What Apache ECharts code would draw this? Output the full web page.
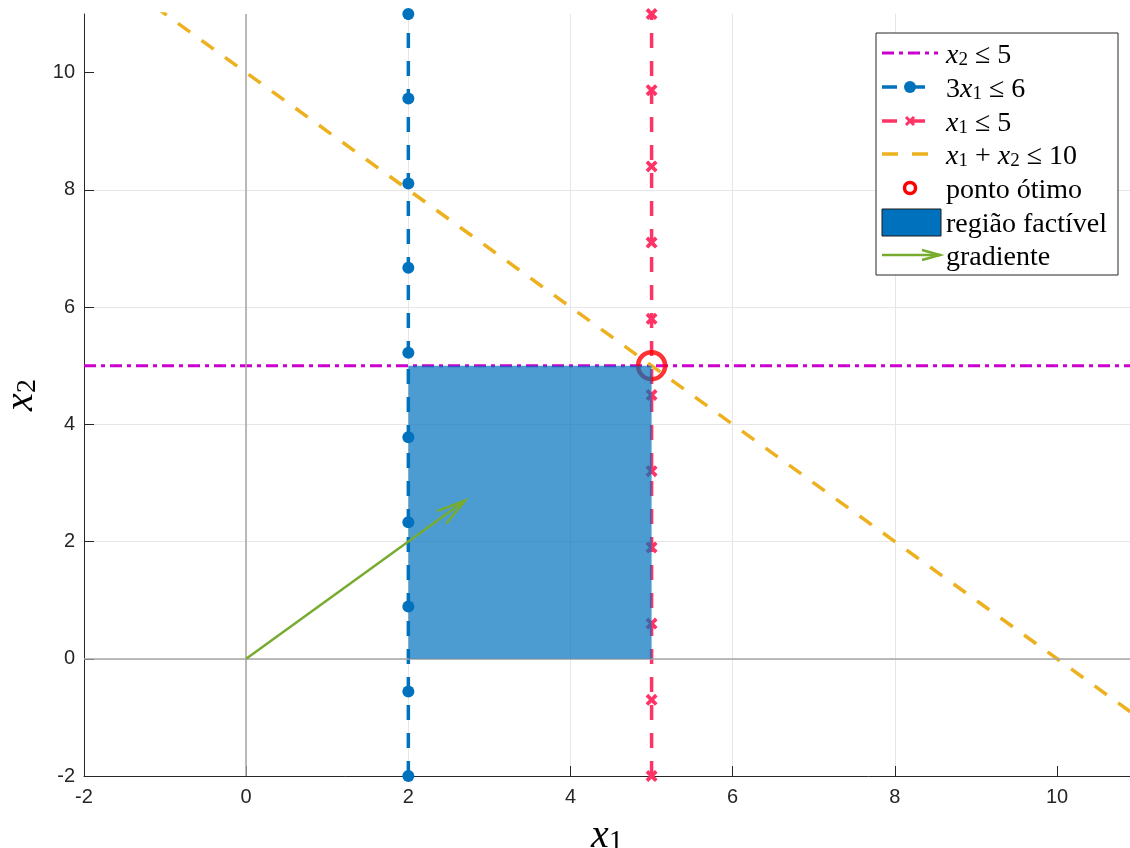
<!DOCTYPE html>
<html>
<head>
<meta charset="utf-8">
<script src="https://cdn.jsdelivr.net/npm/echarts@6/dist/echarts.min.js"></script>
<style>
  html, body { margin: 0; padding: 0; background: #fff; }
  #chart { width: 1130px; height: 848px; }
</style>
</head>
<body>
<div id="chart"></div>
<script>
  // eixos
  var xTicks = [-2, 0, 2, 4, 6, 8, 10]
  var yTicks = [-2, 0, 2, 4, 6, 8, 10]
  var xRange = [-2, 10.9]
  var yRange = [-2, 11]

  // x2 <= 5
  var r1X = [-2, 11]
  var r1Y = [5, 5]
  // 3x1 <= 6
  var r2X = [2, 2, 2, 2, 2, 2, 2, 2, 2, 2]
  var r2Y = [-2, -0.56, 0.89, 2.33, 3.78, 5.22, 6.67, 8.11, 9.56, 11]
  // x1 <= 5
  var r3X = [5, 5, 5, 5, 5, 5, 5, 5, 5, 5, 5]
  var r3Y = [-2, -0.7, 0.6, 1.9, 3.2, 4.5, 5.8, 7.1, 8.4, 9.7, 11]
  // x1 + x2 <= 10
  var r4X = [-2, 12]
  var r4Y = [12, -2]

  var otimo = [5, 5]
  var regiaoX = [2, 5, 5, 2]
  var regiaoY = [0, 0, 5, 5]
  var gradiente = [0, 0, 2.7, 2.7]

  var AZUL = '#0072BD'
  var ROSA = '#FF3366'
  var MAGENTA = '#CC00CC'
  var AMARELO = '#EDB120'
  var VERDE = '#77AC30'
  var SERIF = 'Liberation Serif'

  function pares (xs, ys) {
    return xs.map(function (x, i) { return [x, ys[i]] })
  }

  var simboloX = 'path://M0,2.2 L2.2,0 L5,2.8 L7.8,0 L10,2.2 L7.2,5 L10,7.8 L7.8,10 L5,7.2 L2.2,10 L0,7.8 L2.8,5 Z'

  // estilos de texto "latex"
  var richLeg = {
    i: { fontFamily: SERIF, fontStyle: 'italic', fontSize: 28, lineHeight: 34, verticalAlign: 'bottom', fill: '#000' },
    s: { fontFamily: SERIF, fontSize: 19, lineHeight: 11, verticalAlign: 'bottom', fill: '#000' },
    r: { fontFamily: SERIF, fontSize: 28, lineHeight: 34, verticalAlign: 'bottom', fill: '#000' }
  }
  var richEixo = {
    i: { fontFamily: SERIF, fontStyle: 'italic', fontSize: 40, lineHeight: 46, verticalAlign: 'bottom', color: '#000' },
    s: { fontFamily: SERIF, fontSize: 28, lineHeight: 14, verticalAlign: 'bottom', color: '#000' }
  }

  function eixo (ticks, range, nome, gap, margem) {
    return {
      type: 'value',
      min: range[0],
      max: range[1],
      interval: 2,
      name: nome,
      nameLocation: 'middle',
      nameGap: gap,
      nameTextStyle: { rich: richEixo },
      axisLine: { show: true, onZero: false, lineStyle: { color: '#262626', width: 1 } },
      axisTick: { show: true, inside: true, length: 10, lineStyle: { color: '#262626' }, customValues: ticks },
      axisLabel: { color: '#262626', fontFamily: 'Liberation Sans', fontSize: 20, margin: margem, customValues: ticks },
      splitLine: { show: true, showMinLine: false, showMaxLine: false, lineStyle: { color: '#e6e6e6', width: 1 } }
    }
  }

  var legY = [53, 87, 121, 154, 188, 222, 255]
  var legTextos = [
    '{i|x}{s|2}{r| ≤ 5}',
    '{r|3}{i|x}{s|1}{r| ≤ 6}',
    '{i|x}{s|1}{r| ≤ 5}',
    '{i|x}{s|1}{r| + }{i|x}{s|2}{r| ≤ 10}',
    '{r|ponto ótimo}',
    '{r|região factível}',
    '{r|gradiente}'
  ]

  var legenda = [
    { type: 'rect', shape: { x: 876, y: 33, width: 242, height: 242 }, style: { fill: '#fff', stroke: '#262626', lineWidth: 1 } },
    { type: 'line', shape: { x1: 882, y1: legY[0], x2: 938, y2: legY[0] }, style: { stroke: MAGENTA, lineWidth: 3, lineDash: [12, 5, 4, 5] } },
    { type: 'line', shape: { x1: 882, y1: legY[1], x2: 938, y2: legY[1] }, style: { stroke: AZUL, lineWidth: 3.5, lineDash: [15, 13] } },
    { type: 'circle', shape: { cx: 910, cy: legY[1], r: 6 }, style: { fill: AZUL } },
    { type: 'line', shape: { x1: 882, y1: legY[2], x2: 938, y2: legY[2] }, style: { stroke: ROSA, lineWidth: 3.5, lineDash: [15, 13] } },
    { type: 'line', shape: { x1: 906, y1: legY[2] - 4, x2: 914, y2: legY[2] + 4 }, style: { stroke: ROSA, lineWidth: 3 } },
    { type: 'line', shape: { x1: 906, y1: legY[2] + 4, x2: 914, y2: legY[2] - 4 }, style: { stroke: ROSA, lineWidth: 3 } },
    { type: 'line', shape: { x1: 882, y1: legY[3], x2: 938, y2: legY[3] }, style: { stroke: AMARELO, lineWidth: 3.5, lineDash: [16, 14] } },
    { type: 'circle', shape: { cx: 910, cy: legY[4], r: 5.5 }, style: { fill: 'none', stroke: '#FF0000', lineWidth: 3.5 } },
    { type: 'rect', shape: { x: 882, y: 209, width: 59, height: 27 }, style: { fill: AZUL, stroke: '#1a1a1a', lineWidth: 1 } },
    { type: 'line', shape: { x1: 882, y1: legY[6], x2: 940, y2: legY[6] }, style: { stroke: VERDE, lineWidth: 2.5 } },
    { type: 'polyline', shape: { points: [[922, legY[6] - 5], [940, legY[6]], [922, legY[6] + 5]] }, style: { stroke: VERDE, lineWidth: 2.5, fill: 'none' } }
  ]
  legTextos.forEach(function (t, k) {
    legenda.push({
      type: 'text',
      x: 946,
      y: legY[k],
      style: { text: t, rich: richLeg, fill: '#000', verticalAlign: 'middle', align: 'left' }
    })
  })
  legenda.forEach(function (el) { el.z = 100; el.silent = true })

  var option = {
    animation: false,
    backgroundColor: '#fff',
    grid: { left: 84, right: 0, top: 14, bottom: 72, containLabel: false, outerBoundsMode: 'none' },
    xAxis: eixo(xTicks, xRange, '{i|x}{s|1}', 34, 11),
    yAxis: eixo(yTicks, yRange, '{i|x}{s|2}', 40, 9),
    graphic: legenda,
    series: [
      {
        // linhas x=0 e y=0
        type: 'line',
        data: [],
        silent: true,
        z: 1,
        markLine: {
          silent: true,
          symbol: 'none',
          label: { show: false },
          lineStyle: { color: '#a6a6a6', width: 1.5, type: 'solid' },
          data: [{ xAxis: 0 }, { yAxis: 0 }]
        }
      },
      {
        type: 'line',
        data: pares(r1X, r1Y),
        symbol: 'none',
        silent: true,
        z: 3,
        lineStyle: { color: MAGENTA, width: 3, type: [12, 5, 4, 5] }
      },
      {
        type: 'line',
        data: pares(r2X, r2Y),
        symbol: 'circle',
        symbolSize: 12,
        silent: true,
        z: 3,
        itemStyle: { color: AZUL },
        lineStyle: { color: AZUL, width: 3.5, type: [15, 13] }
      },
      {
        type: 'line',
        data: pares(r3X, r3Y),
        symbol: simboloX,
        symbolSize: 12,
        silent: true,
        z: 3,
        itemStyle: { color: ROSA },
        lineStyle: { color: ROSA, width: 3.5, type: [15, 13] }
      },
      {
        type: 'line',
        data: pares(r4X, r4Y),
        symbol: 'none',
        silent: true,
        z: 3,
        lineStyle: { color: AMARELO, width: 3.5, type: [15, 14] }
      },
      {
        type: 'scatter',
        data: [otimo],
        symbol: 'circle',
        symbolSize: 27,
        silent: true,
        z: 4,
        itemStyle: { color: 'rgba(0,0,0,0)', borderColor: '#FF0000', borderWidth: 4.5 }
      },
      {
        type: 'custom',
        data: [[regiaoX[0], regiaoY[0]]],
        silent: true,
        z: 5,
        renderItem: function (params, api) {
          var pts = regiaoX.map(function (x, i) { return api.coord([x, regiaoY[i]]) })
          return { type: 'polygon', shape: { points: pts }, style: { fill: 'rgba(0,114,189,0.7)' } }
        }
      },
      {
        type: 'custom',
        data: [gradiente],
        encode: { x: [0, 2], y: [1, 3] },
        silent: true,
        z: 6,
        renderItem: function (params, api) {
          var a = api.coord([api.value(0), api.value(1)])
          var b = api.coord([api.value(2), api.value(3)])
          var ang = Math.atan2(b[1] - a[1], b[0] - a[0])
          var L = 30
          var h = 15 * Math.PI / 180
          var p1 = [b[0] - L * Math.cos(ang - h), b[1] - L * Math.sin(ang - h)]
          var p2 = [b[0] - L * Math.cos(ang + h), b[1] - L * Math.sin(ang + h)]
          return {
            type: 'group',
            children: [
              { type: 'line', shape: { x1: a[0], y1: a[1], x2: b[0], y2: b[1] }, style: { stroke: VERDE, lineWidth: 2.5 } },
              { type: 'polyline', shape: { points: [p1, b, p2] }, style: { stroke: VERDE, lineWidth: 2.5, fill: 'none' } }
            ]
          }
        }
      }
    ]
  }

  var chart = echarts.init(document.getElementById('chart'))
  chart.setOption(option)
</script>
</body>
</html>
